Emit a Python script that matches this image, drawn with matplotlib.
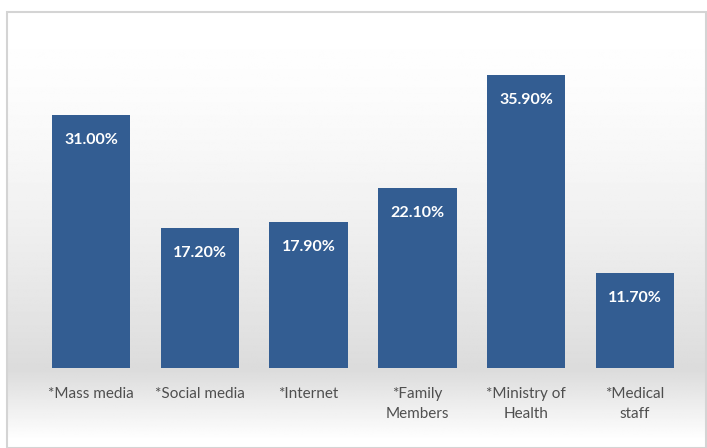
import numpy as np
import matplotlib
matplotlib.use("Agg")
import matplotlib.pyplot as plt
from matplotlib.patches import Rectangle

# data
categories = ["*Mass media", "*Social media", "*Internet", "*Family\nMembers",
              "*Ministry of\nHealth", "*Medical\nstaff"]
values = [31.0, 17.2, 17.9, 22.1, 35.9, 11.7]
labels = ["31.00%", "17.20%", "17.90%", "22.10%", "35.90%", "11.70%"]

W, H = 707, 448
fig = plt.figure(figsize=(W / 100, H / 100), dpi=100)
fig.patch.set_facecolor("white")

# background panel with a soft grey band near the bars' base
bg = fig.add_axes([7 / W, 0, (706 - 7) / W, (H - 12) / H], zorder=0)
rows = np.linspace(0, 1, 400)  # 0 = top of panel, 1 = bottom
y_px = 12 + rows * (H - 12)
shade = np.where(y_px < 370,
                 1.0 - 0.14 * ((y_px - 12) / (370 - 12)) ** 1.6,
                 0.86 + 0.14 * np.clip((y_px - 370) / 70, 0, 1))
img = np.repeat(shade[:, None], 10, axis=1)
bg.imshow(img, cmap="gray", vmin=0, vmax=1, aspect="auto", extent=[0, 1, 0, 1])
bg.set_axis_off()
bg.add_patch(Rectangle((0, 0), 1, 1, transform=bg.transAxes, fill=False,
                       edgecolor="#d4d4d4", linewidth=1.5, clip_on=False))

# main bar axes
x0 = 91 - 54.3
x1 = 635 + 54.3
ybot = 368
ytop = 368 - 40 * 8.16
ax = fig.add_axes([x0 / W, 1 - ybot / H, (x1 - x0) / W, (ybot - ytop) / H], zorder=2)
ax.patch.set_alpha(0)

x = np.arange(len(values))
ax.bar(x, values, width=0.72, color="#335D92", zorder=3)

for xi, v, lab in zip(x, values, labels):
    ax.text(xi, v - 3.1, lab, ha="center", va="center", color="white",
            fontsize=11.5, fontweight="bold", family="Lato")

ax.set_xlim(-0.5, len(values) - 0.5)
ax.set_ylim(0, 40)
ax.set_xticks(x)
ax.set_xticklabels(categories, fontsize=11, color="#4f4f4f", family="Lato",
                   linespacing=1.55)
ax.tick_params(axis="x", length=0, pad=14)
ax.set_yticks([])
for s in ax.spines.values():
    s.set_visible(False)

plt.savefig("out.png", dpi=100)
